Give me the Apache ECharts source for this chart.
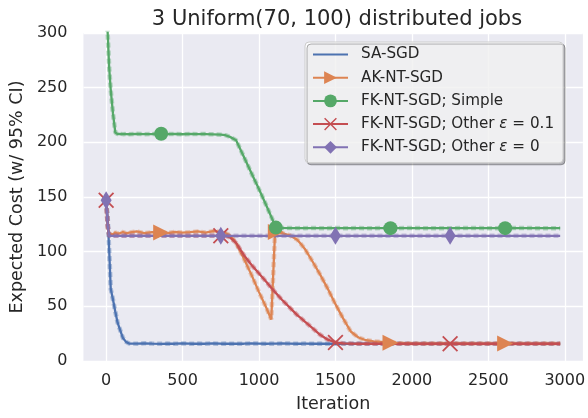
<!DOCTYPE html>
<html>
<head>
<meta charset="utf-8">
<script src="https://cdn.jsdelivr.net/npm/echarts@6/dist/echarts.min.js"></script>
<style>
  html, body { margin: 0; padding: 0; background: #fff; }
  #chart { width: 588px; height: 418px; }
</style>
</head>
<body>
<div id="chart"></div>
<script>
const iters = [0, 10, 20, 30, 45, 60, 75, 90, 110, 130,
  150, 200, 250, 300, 360, 400, 450, 500, 550, 600,
  650, 700, 750, 780, 810, 850, 900, 950, 1000, 1050,
  1080, 1105, 1110, 1150, 1200, 1250, 1280, 1300, 1350, 1400,
  1450, 1500, 1550, 1600, 1650, 1700, 1750, 1800, 1860, 1900,
  2000, 2100, 2250, 2400, 2500, 2610, 2700, 2850, 2970];

const saSgd = [147, 132, 101, 66, 56, 45, 35, 29, 21, 17.5,
  16, 15.8, 16.2, 15.9, 15.7, 15.9, 15.8, 16, 15.8, 15.9,
  15.8, 16, 15.8, 15.9, 15.8, 15.9, 15.8, 16, 15.9, 15.8,
  15.9, 15.8, 15.8, 16, 15.9, 15.8, 15.8, 15.9, 15.8, 15.9,
  15.8, 15.8, 15.9, 15.8, 15.9, 15.8, 15.9, 15.8, 15.8, 15.9,
  15.8, 15.9, 15.8, 15.9, 15.8, 15.8, 15.9, 15.8, 15.8];

const akNtSgd = [147, 122, 116, 117, 116, 117.5, 116.5, 117, 118, 116.8,
  117.5, 118.5, 117, 117.8, 117.5, 117, 118, 117.5, 117.8, 118.5,
  117.5, 118.8, 118, 117, 115, 108, 94, 79, 63, 48,
  38, 118, 118, 117, 115, 111, 106, 102.5, 91, 79,
  66, 52, 39, 27, 21.5, 19, 18, 17.5, 16.8, 16.3,
  16, 15.9, 16, 15.9, 15.9, 16, 15.9, 15.9, 15.9];

const fkSimple = [335, 300, 268, 248, 226, 209, 207.5, 207.8, 207.5, 207.6,
  207.4, 207.8, 207.5, 207.6, 207.8, 207.5, 207.6, 207.4, 207.7, 207.5,
  207.6, 207.3, 207, 206.5, 205, 202, 187, 172, 157, 141.5,
  132, 124, 122, 121.8, 121.6, 121.5, 121.6, 121.5, 121.6, 121.5,
  121.5, 121.6, 121.5, 121.5, 121.6, 121.5, 121.5, 121.6, 121.5, 121.5,
  121.6, 121.5, 121.5, 121.6, 121.5, 121.5, 121.6, 121.5, 121.5];

const fkOtherEps01 = [147, 124, 114.5, 114.5, 114.5, 114.5, 114.5, 114.5, 114.5, 114.5,
  114.5, 114.5, 114.5, 114.5, 114.5, 114.5, 114.5, 114.5, 114.5, 114.5,
  114.5, 114.5, 114.5, 114.5, 113, 108, 97, 88, 80, 72,
  67, 63, 62, 56, 49, 42, 38.5, 36, 30, 24,
  19.5, 17, 16.2, 15.9, 15.8, 15.8, 15.8, 15.8, 15.8, 15.8,
  15.8, 15.8, 15.8, 15.8, 15.8, 15.8, 15.8, 15.8, 15.8];

const fkOtherEps0 = [147, 124, 114.5, 114.5, 114.5, 114.5, 114.5, 114.5, 114.5, 114.5,
  114.5, 114.5, 114.5, 114.5, 114.5, 114.5, 114.5, 114.5, 114.5, 114.5,
  114.5, 114.5, 114.5, 114.5, 114.5, 114.5, 114.5, 114.5, 114.5, 114.5,
  114.5, 114.5, 114.5, 114.5, 114.5, 114.5, 114.5, 114.5, 114.5, 114.5,
  114.5, 114.5, 114.5, 114.5, 114.5, 114.5, 114.5, 114.5, 114.5, 114.5,
  114.5, 114.5, 114.5, 114.5, 114.5, 114.5, 114.5, 114.5, 114.5];

// marker positions (markevery)
const marksA = [360, 1110, 1860, 2610];
const marksB = [0, 750, 1500, 2250];

const xTicks = [0, 500, 1000, 1500, 2000, 2500, 3000];

const FONT = 'DejaVu Sans';
const INK = '#262626';
const X_PATH = 'path://M0,0.8L0.8,0L5,4.2L9.2,0L10,0.8L5.8,5L10,9.2L9.2,10L5,5.8L0.8,10L0,9.2L4.2,5Z';

const fade = (hex, a) => {
  const n = parseInt(hex.slice(1), 16);
  return `rgba(${n >> 16}, ${(n >> 8) & 255}, ${n & 255}, ${a})`;
};

const series = [];
function addLine(name, vals, color, symbol, symbolSize, marks, rotate) {
  const pts = iters.map((x, i) => [x, vals[i]]);
  // confidence band look: faint dashed line under the mean
  series.push({
    type: 'line',
    name: name + ' CI',
    data: pts,
    symbol: 'none',
    silent: true,
    lineStyle: { color: fade(color, 0.4), width: 4.5, type: [5, 3] }
  });
  series.push({
    type: 'line',
    name,
    data: iters.map((x, i) => marks.includes(x) ? [x, vals[i]] : { value: [x, vals[i]], symbol: 'none' }),
    symbol,
    symbolSize,
    symbolRotate: rotate || 0,
    showAllSymbol: true,
    lineStyle: { color, width: 2.3 },
    itemStyle: { color }
  });
}

addLine('SA-SGD', saSgd, '#4C72B0', 'none', 0, []);
addLine('AK-NT-SGD', akNtSgd, '#DD8452', 'triangle', 16, marksA, -90);
addLine('FK-NT-SGD; Simple', fkSimple, '#55A868', 'circle', 14, marksA);
addLine('FK-NT-SGD; Other ε = 0.1', fkOtherEps01, '#C44E52', X_PATH, 16, marksB);
addLine('FK-NT-SGD; Other ε = 0', fkOtherEps0, '#8172B3', 'diamond', [11, 18], marksB);

const chart = echarts.init(document.getElementById('chart'));
chart.setOption({
  animation: false,
  textStyle: { fontFamily: FONT },
  title: {
    text: '3 Uniform(70, 100) distributed jobs',
    left: 332,
    textAlign: 'center',
    top: 4,
    textStyle: { fontFamily: FONT, fontSize: 21, fontWeight: 'normal', color: INK }
  },
  legend: {
    orient: 'vertical',
    left: 305,
    top: 42,
    padding: [5, 9, 8, 7],
    itemWidth: 35,
    itemHeight: 16,
    itemGap: 8.2,
    backgroundColor: 'rgba(255,255,255,0.8)',
    borderColor: '#cccccc',
    borderWidth: 1,
    borderRadius: 4,
    shadowColor: 'rgba(0,0,0,0.3)',
    shadowOffsetX: 2,
    shadowOffsetY: 2,
    data: [
      { name: 'SA-SGD', itemStyle: { opacity: 0 } },
      'AK-NT-SGD',
      'FK-NT-SGD; Simple',
      'FK-NT-SGD; Other ε = 0.1',
      'FK-NT-SGD; Other ε = 0'
    ],
    formatter: name => name.replace('ε', '{i|ε}'),
    textStyle: {
      fontFamily: FONT,
      fontSize: 15.2,
      color: INK,
      padding: [0, 0, 0, 8],
      rich: { i: { fontFamily: FONT, fontSize: 15.2, fontStyle: 'italic', color: INK } }
    }
  },
  grid: {
    left: 80,
    right: 4,
    top: 33,
    bottom: 57,
    show: true,
    backgroundColor: '#EAEAF2',
    borderWidth: 0
  },
  xAxis: {
    type: 'value',
    min: -148.5,
    max: 3118.5,
    name: 'Iteration',
    nameLocation: 'middle',
    nameGap: 34,
    nameTextStyle: { fontFamily: FONT, fontSize: 17.5, color: INK },
    axisLine: { show: false },
    axisTick: { show: false, customValues: xTicks },
    axisLabel: {
      customValues: xTicks,
      formatter: v => String(v),
      fontFamily: FONT, fontSize: 16, color: INK, margin: 12
    },
    splitLine: { show: true, lineStyle: { color: '#ffffff', width: 1.3 } }
  },
  yAxis: {
    type: 'value',
    min: 0,
    max: 300,
    interval: 50,
    name: 'Expected Cost (w/ 95% CI)',
    nameLocation: 'middle',
    nameGap: 52,
    nameTextStyle: { fontFamily: FONT, fontSize: 17.5, color: INK },
    axisLine: { show: false },
    axisTick: { show: false },
    axisLabel: { fontFamily: FONT, fontSize: 16, color: INK, margin: 16 },
    splitLine: { show: true, lineStyle: { color: '#ffffff', width: 1.3 } }
  },
  series
});
</script>
</body>
</html>
